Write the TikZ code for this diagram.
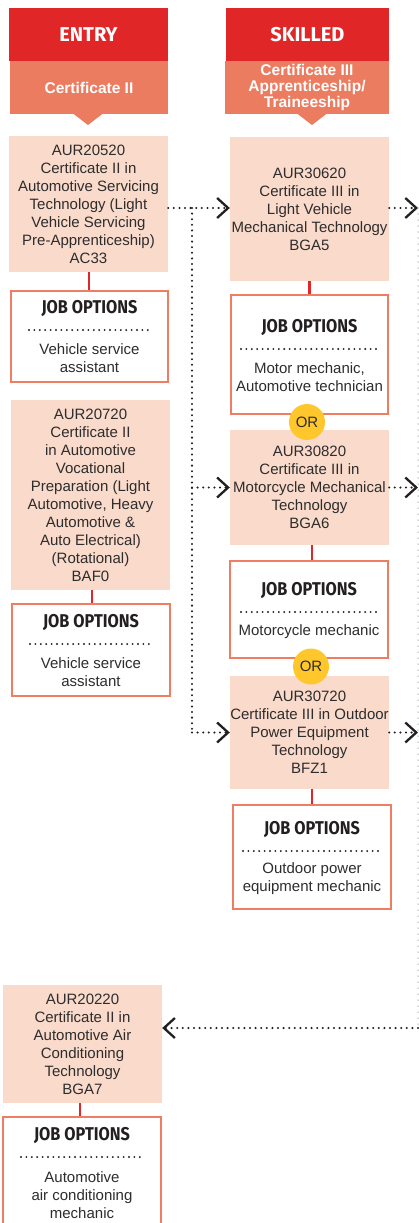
\documentclass[tikz,border=0pt]{standalone}
\usepackage{fontspec}
\setmainfont{Liberation Sans}
\newfontfamily\headf{Fira Sans}
\newfontfamily\jobf[FakeStretch=0.88]{Fira Sans}
\usetikzlibrary{arrows.meta}
\definecolor{hdred}{RGB}{225,38,40}
\definecolor{salmon}{RGB}{236,124,96}
\definecolor{peach}{RGB}{249,218,203}
\definecolor{jobc}{RGB}{238,125,98}
\definecolor{linkred}{RGB}{227,38,42}
\definecolor{oryel}{RGB}{255,199,44}
\definecolor{txt}{RGB}{45,45,45}
\definecolor{arr}{RGB}{35,31,32}
\tikzset{
  hdbox/.style={fill=hdred, text=white, inner sep=0pt, font=\headf\bfseries\fontsize{20}{22}\selectfont},
  subbox/.style={fill=salmon, text=white, inner sep=0pt, align=center, font=\bfseries\fontsize{15.5}{16}\selectfont},
  course/.style={fill=peach, text=txt, inner sep=0pt, align=center, font=\fontsize{15}{18}\selectfont},
  jobbox/.style={draw=jobc, line width=2.5pt, fill=white, inner sep=0pt},
  jobtitle/.style={text=arr, inner sep=0pt, font=\jobf\bfseries\fontsize{18.5}{20}\selectfont},
  jobtext/.style={text=txt, inner sep=0pt, align=center, font=\fontsize{15}{18}\selectfont},
  sepdots/.style={draw=arr, line width=2.1pt, line cap=round, dash pattern=on 0pt off 5.4pt},
  dotline/.style={draw=arr, line width=2.3pt, line cap=round, dash pattern=on 0pt off 5.6pt},
  conn/.style={dotline, -{Straight Barb[length=11pt,width=20pt,line width=2.3pt,line cap=butt]}},
  graydots/.style={draw=gray!60, line width=1.5pt, line cap=round, dash pattern=on 0pt off 6pt},
  redlink/.style={draw=linkred, line width=2.2pt},
  orbadge/.style={circle, fill=oryel, text=txt, inner sep=0pt, minimum size=36pt, font=\fontsize{15}{18}\selectfont},
}
\begin{document}
\begin{tikzpicture}[x=1pt,y=-1pt]
\useasboundingbox (0,0) rectangle (419,1223);
\fill[white] (0,0) rectangle (419,1223);

% headers
\node[hdbox, minimum width=159pt, minimum height=53pt] (hentry) at (88.5,34.5) {ENTRY};
\node[subbox, minimum width=158pt, minimum height=53pt] (sentry) at (89,87.5) {Certificate II};
\fill[salmon] (73,113.5) -- (103,113.5) -- (88,125) -- cycle;
\node[hdbox, minimum width=163pt, minimum height=53pt] (hskill) at (307.5,34.5) {SKILLED};
\node[subbox, minimum width=164pt, minimum height=53pt] (sskill) at (307,87.5) {Certificate III\\Apprenticeship/\\Traineeship};
\fill[salmon] (297,113.5) -- (327,113.5) -- (312,125) -- cycle;

% course boxes
\node[course, minimum width=159pt, minimum height=136pt] (c2a) at (88.5,204)
  {AUR20520\\Certificate II in\\Automotive Servicing\\Technology (Light\\Vehicle Servicing\\Pre-Apprenticeship)\\AC33};
\node[course, minimum width=159pt, minimum height=144pt] (c3a) at (309.5,209)
  {AUR30620\\Certificate III in\\Light Vehicle\\Mechanical Technology\\BGA5};
\node[course, minimum width=159pt, minimum height=190pt] (c2b) at (90.5,495)
  {AUR20720\\Certificate II\\in Automotive\\Vocational\\Preparation (Light\\Automotive, Heavy\\Automotive \&\\Auto Electrical)\\(Rotational)\\BAF0};
\node[course, minimum width=159pt, minimum height=115pt] (c3b) at (309.5,487.5)
  {AUR30820\\Certificate III in\\Motorcycle Mechanical\\Technology\\BGA6};
\node[course, minimum width=159pt, minimum height=113pt] (c3c) at (309.5,732.5)
  {AUR30720\\Certificate III in Outdoor\\Power Equipment\\Technology\\BFZ1};
\node[course, minimum width=159pt, minimum height=118pt] (c2d) at (82.5,1044)
  {AUR20220\\Certificate II in\\Automotive Air\\Conditioning\\Technology\\BGA7};

% job boxes
\node[jobbox, minimum width=157pt, minimum height=91pt] (j1) at (89.5,336.5) {};
\node[jobtitle] (j1t) at (89.5,308) {JOB OPTIONS};
\draw[sepdots] (29,330) -- (152,330);
\node[jobtext] (j1x) at (89.5,358) {Vehicle service\\assistant};

\node[jobbox, minimum width=157pt, minimum height=119pt] (j3a) at (309.5,354.5) {};
\node[jobtitle] (j3at) at (309.5,327) {JOB OPTIONS};
\draw[sepdots] (241,349) -- (379,349);
\node[jobtext] (j3ax) at (309.5,377) {Motor mechanic,\\Automotive technician};

\node[jobbox, minimum width=158pt, minimum height=92pt] (j2) at (91,650) {};
\node[jobtitle] (j2t) at (91,622) {JOB OPTIONS};
\draw[sepdots] (30,644) -- (153,644);
\node[jobtext] (j2x) at (91,672.5) {Vehicle service\\assistant};

\node[jobbox, minimum width=158pt, minimum height=97pt] (j3b) at (309,609.5) {};
\node[jobtitle] (j3bt) at (309,590) {JOB OPTIONS};
\draw[sepdots] (241,612) -- (379,612);
\node[jobtext] (j3bx) at (309,632) {Motorcycle mechanic};

\node[jobbox, minimum width=158pt, minimum height=104pt] (j3c) at (312,857) {};
\node[jobtitle] (j3ct) at (312,829) {JOB OPTIONS};
\draw[sepdots] (243,851) -- (382,851);
\node[jobtext] (j3cx) at (312,879) {Outdoor power\\equipment mechanic};

\node[jobbox, minimum width=158pt, minimum height=123pt] (j2d) at (82,1178.5) {};
\node[jobtitle] (j2dt) at (82,1135) {JOB OPTIONS};
\draw[sepdots] (21,1157) -- (144,1157);
\node[jobtext] (j2dx) at (82,1195) {Automotive\\air conditioning\\mechanic};

% red links
\draw[redlink] ([xshift=0.5pt]c2a.south) -- ([xshift=0.5pt]c2a.south |- j1.north);
\draw[redlink] (c3a.south) -- (c3a.south |- j3a.north);
\draw[redlink] ([xshift=1.5pt]c2b.south) -- ([xshift=1.5pt]c2b.south |- j2.north);
\draw[redlink] ([xshift=2.5pt]c3b.south) -- ([xshift=2.5pt]c3b.south |- j3b.north);
\draw[redlink] ([xshift=2.5pt]c3c.south) -- ([xshift=2.5pt]c3c.south |- j3c.north);
\draw[redlink] ([xshift=-2.5pt]c2d.south) -- ([xshift=-2.5pt]c2d.south |- j2d.north);

% OR badges
\node[orbadge] (or1) at (307,422) {OR};
\node[orbadge] (or2) at (311,666.5) {OR};

% connectors
\coordinate (br) at (192,208);
\coordinate (rt) at (418,208);
\coordinate (bt) at (418,1028);
\draw[dotline] (br) -- (br |- c3c.west);
\draw[conn] (c2a.east |- br) -- (c3a.west |- br);
\draw[conn] (br |- c3b.west) -- (c3b.west);
\draw[conn] (br |- c3c.west) -- (c3c.west);
\draw[graydots] (rt) -- (bt);
\draw[conn] (c3a.east |- rt) -- (rt);
\draw[conn] (c3b.east) -- (rt |- c3b.east);
\draw[conn] (c3c.east) -- (rt |- c3c.east);
\draw[conn] (bt) -- (c2d.east |- bt);
\end{tikzpicture}
\end{document}
